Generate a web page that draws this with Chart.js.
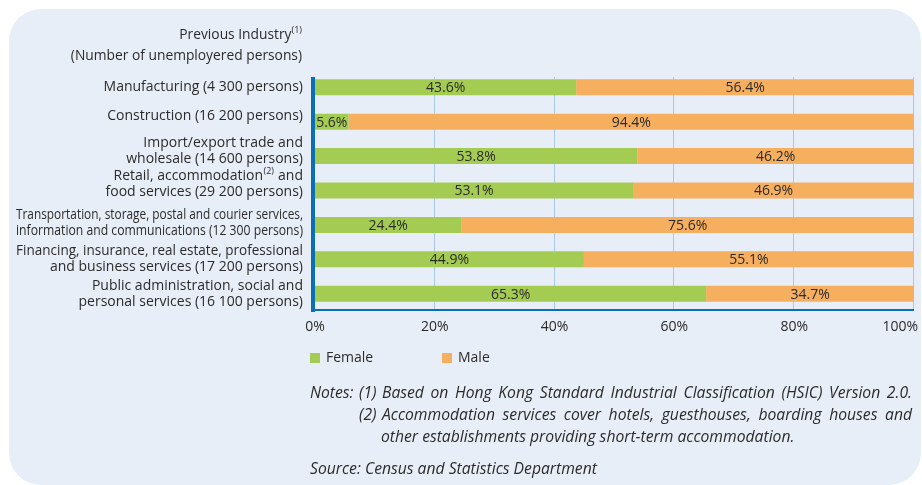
<!DOCTYPE html>
<html>
<head>
<meta charset="utf-8">
<script src="https://cdn.jsdelivr.net/npm/chart.js@4/dist/chart.umd.min.js"></script>
<style>
  html, body { margin: 0; padding: 0; background: #ffffff; }
  #wrap { position: relative; width: 922px; height: 485px; overflow: hidden; }
  #panel { position: absolute; left: 9px; top: 9px; width: 912px; height: 476px;
           background: #e8eef8; border-radius: 32px; }
  #chart { position: absolute; left: 0; top: 0; }
  .txt { position: absolute; font-family: "Open Sans", sans-serif; color: #2b2b2b; white-space: nowrap; }
  .hdr { font-size: 13.8px; line-height: 21px; text-align: right; left: 0; width: 302px; }
  .hdr sup { font-size: 9px; vertical-align: baseline; position: relative; top: -6px; }
  .note { font-size: 15.7px; line-height: 22px; font-style: italic; }
  .just { width: 530px; text-align: justify; text-align-last: justify; white-space: normal; }
</style>
</head>
<body>
<div id="wrap">
  <div id="panel"></div>
  <canvas id="chart" width="922" height="485"></canvas>
  <div class="txt hdr" style="top:23px;">Previous Industry<sup>(1)</sup></div>
  <div class="txt hdr" style="top:44px;">(Number of unemployered persons)</div>
  <div class="txt note" style="left:310px; top:381px;">Notes:</div>
  <div class="txt note" style="left:359px; top:381px;">(1)</div>
  <div class="txt note just" style="left:382px; top:381px;">Based on Hong Kong Standard Industrial Classification (HSIC) Version 2.0.</div>
  <div class="txt note" style="left:359px; top:403px;">(2)</div>
  <div class="txt note just" style="left:382px; top:403px;">Accommodation services cover hotels, guesthouses, boarding houses and</div>
  <div class="txt note" style="left:381px; top:425px;">other establishments providing short-term accommodation.</div>
  <div class="txt note" style="left:310px; top:457px;">Source: Census and Statistics Department</div>
</div>
<script>
// Industry labels (one entry per line; "^(n)" marks a note reference set as superscript)
const industryLabels = [
  ['Manufacturing (4 300 persons)'],
  ['Construction (16 200 persons)'],
  ['Import/export trade and', 'wholesale (14 600 persons)'],
  ['Retail, accommodation^(2) and', 'food services (29 200 persons)'],
  ['Transportation, storage, postal and courier services,', 'information and communications (12 300 persons)'],
  ['Financing, insurance, real estate, professional', 'and business services (17 200 persons)'],
  ['Public administration, social and', 'personal services (16 100 persons)']
];
const seriesNames = ['Female', 'Male'];
const femaleShare = [43.6, 5.6, 53.8, 53.1, 24.4, 44.9, 65.3];
const maleShare   = [56.4, 94.4, 46.2, 46.9, 75.6, 55.1, 34.7];
const percentTicks = [0, 20, 40, 60, 80, 100];

const GREEN = '#a5cc52';
const ORANGE = '#f6ae5f';
const AXIS_BLUE = '#0a6fb7';
const GRID_BLUE = '#a9c9e8';
const INK = '#2b2b2b';
const FONT = '"Open Sans", sans-serif';

// small vertical nudges for the stacked category captions
const labelNudge = [0, -6, -5, -6, -2, 0, 0];
const labelRight = 303;
const labelLineGap = 16;
const longestCaption = 287;

function drawRich(ctx, text, right, y, maxW) {
  const parts = text.split(/(\^\(\d+\))/).filter(s => s.length);
  ctx.font = '14px ' + FONT;
  const widths = parts.map(p => {
    if (p.startsWith('^')) { ctx.font = '9px ' + FONT; const w = ctx.measureText(p.slice(1)).width; ctx.font = '14px ' + FONT; return w + 1; }
    return ctx.measureText(p).width;
  });
  const total = widths.reduce((a, b) => a + b, 0);
  const scale = maxW && total > maxW ? maxW / total : 1;
  let x = right - total * scale;
  ctx.textAlign = 'left';
  ctx.textBaseline = 'middle';
  parts.forEach((p, i) => {
    if (p.startsWith('^')) {
      ctx.font = '9px ' + FONT;
      ctx.fillText(p.slice(1), x + 0.5, y - 5, (widths[i] - 1) * scale);
    } else {
      ctx.font = '14px ' + FONT;
      ctx.fillText(p, x, y, widths[i] * scale);
    }
    x += widths[i] * scale;
  });
}

const decorations = {
  id: 'decorations',
  beforeDatasetsDraw(chart) {
    const ctx = chart.ctx, xs = chart.scales.x, area = chart.chartArea;
    ctx.save();
    ctx.strokeStyle = GRID_BLUE;
    ctx.lineWidth = 1;
    percentTicks.forEach(v => {
      if (v === 0) return;
      const px = Math.round(xs.getPixelForValue(v)) - 0.5;
      ctx.beginPath();
      ctx.moveTo(px, area.top + 7);
      ctx.lineTo(px, area.bottom);
      ctx.stroke();
    });
    ctx.restore();
  },
  afterDatasetsDraw(chart) {
    const ctx = chart.ctx, xs = chart.scales.x, ys = chart.scales.y, area = chart.chartArea;
    ctx.save();

    // value labels centred in each segment
    ctx.fillStyle = INK;
    ctx.font = '14px ' + FONT;
    ctx.textAlign = 'center';
    ctx.textBaseline = 'middle';
    chart.data.datasets.forEach((ds, di) => {
      chart.getDatasetMeta(di).data.forEach((bar, i) => {
        const cx = (bar.x + bar.base) / 2;
        ctx.fillText(ds.data[i].toFixed(1) + '%', cx, bar.y + 1);
      });
    });

    // axes
    ctx.fillStyle = AXIS_BLUE;
    ctx.fillRect(area.left - 4, area.top + 7, 4, area.bottom - area.top - 6);
    ctx.fillRect(area.left - 4, area.bottom - 2, area.right - area.left + 4, 2);

    // category captions
    ctx.fillStyle = INK;
    industryLabels.forEach((lines, i) => {
      const cy = ys.getPixelForValue(i) + labelNudge[i];
      const y0 = cy - (lines.length - 1) * labelLineGap / 2;
      lines.forEach((ln, k) => drawRich(ctx, ln, labelRight, y0 + k * labelLineGap, longestCaption));
    });

    // percentage ticks
    ctx.font = '14px ' + FONT;
    ctx.textBaseline = 'middle';
    ctx.textAlign = 'left';
    percentTicks.forEach(v => {
      const t = v + '%';
      const w = ctx.measureText(t).width;
      let x = xs.getPixelForValue(v) - w / 2;
      if (x + w > 918) x = 918 - w;
      ctx.fillText(t, x, 327);
    });

    // legend
    const legendX = [310, 442];
    chart.data.datasets.forEach((ds, di) => {
      ctx.fillStyle = ds.backgroundColor;
      ctx.fillRect(legendX[di], 353, 10, 10);
      ctx.fillStyle = INK;
      ctx.fillText(ds.label, legendX[di] + 16, 358);
    });
    ctx.restore();
  }
};

new Chart(document.getElementById('chart'), {
  type: 'bar',
  data: {
    labels: industryLabels.map(l => l.join(' ')),
    datasets: [
      { label: seriesNames[0], data: femaleShare, backgroundColor: GREEN, borderWidth: 0 },
      { label: seriesNames[1], data: maleShare, backgroundColor: ORANGE, borderWidth: 0 }
    ]
  },
  options: {
    indexAxis: 'y',
    responsive: false,
    animation: false,
    devicePixelRatio: 1,
    layout: { padding: { top: 70, right: 8, left: 0, bottom: 0 } },
    plugins: { legend: { display: false }, tooltip: { enabled: false } },
    datasets: { bar: { categoryPercentage: 1, barPercentage: 0.465 } },
    scales: {
      x: {
        stacked: true, min: 0, max: 100,
        ticks: { display: false, stepSize: 20 },
        grid: { display: false }, border: { display: false },
        afterFit: s => { s.height = 174; }
      },
      y: {
        stacked: true,
        ticks: { display: false },
        grid: { display: false }, border: { display: false },
        afterFit: s => { s.width = 315; }
      }
    }
  },
  plugins: [decorations]
});
</script>
</body>
</html>
